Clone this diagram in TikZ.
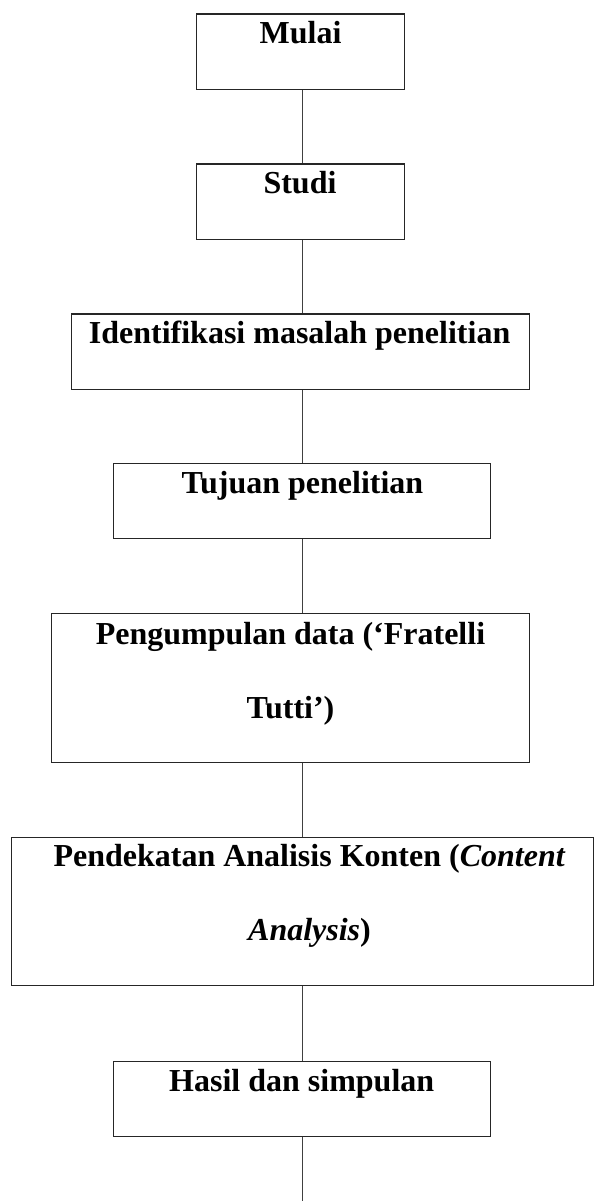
\documentclass[tikz,border=0pt]{standalone}
\usepackage{fontspec}
\setmainfont{Liberation Serif}
\usetikzlibrary{positioning}

\tikzset{
  box/.style 2 args={draw=black!85, line width=0.5pt, rectangle, inner sep=0pt,
    anchor=north west, minimum width=#1*0.375pt, minimum height=#2*0.375pt},
  lbl/.style={font=\fontsize{12}{27.6}\selectfont\bfseries, align=center, inner sep=0pt, anchor=base},
  link/.style={draw=black!75, line width=0.5pt}
}

\begin{document}
\begin{tikzpicture}[x=0.375pt, y=-0.375pt]
  \useasboundingbox (0,0) rectangle (598,1201);
  % frames of the steps
  \node[box={208}{75.4}] (mulai) at (196,13.3) {};
  \node[box={208}{75.4}] (studi) at (196,163.3) {};
  \node[box={458}{75.4}] (identifikasi) at (71,313.3) {};
  \node[box={377}{75}] (tujuan) at (113,463) {};
  \node[box={478}{149}] (pengumpulan) at (51,613) {};
  \node[box={582}{148.3}] (analisis) at (11,836.7) {};
  \node[box={377}{75}] (hasil) at (113,1060.7) {};
  % texts, set near the top of each frame (base = last line)
  \node[lbl] (tmulai) at (300.5,43.3) {Mulai};
  \node[lbl] (tstudi) at (300,193.3) {Studi};
  \node[lbl] (tidentifikasi) at (299.6,343.3) {Identifikasi masalah penelitian};
  \node[lbl] (ttujuan) at (302.5,493.3) {Tujuan penelitian};
  \node[lbl] (tpengumpulan) at (290.5,718) {Pengumpulan data (‘Fratelli\\ Tutti’)};
  \node[lbl] (tanalisis) at (309.5,940) {Pendekatan Analisis Konten (\textit{Content}\\ \textit{Analysis})};
  \node[lbl] (thasil) at (301.7,1091) {Hasil dan simpulan};
  % vertical spine
  \coordinate (spine) at (302.7,0);
  \coordinate (ujung) at (302.7,1201);
  \foreach \a/\b in {mulai/studi,studi/identifikasi,identifikasi/tujuan,tujuan/pengumpulan,pengumpulan/analisis,analisis/hasil}
    \draw[link] (\a.south -| spine) -- (\b.north -| spine);
  \draw[link] (hasil.south -| spine) -- (ujung);
\end{tikzpicture}
\end{document}
